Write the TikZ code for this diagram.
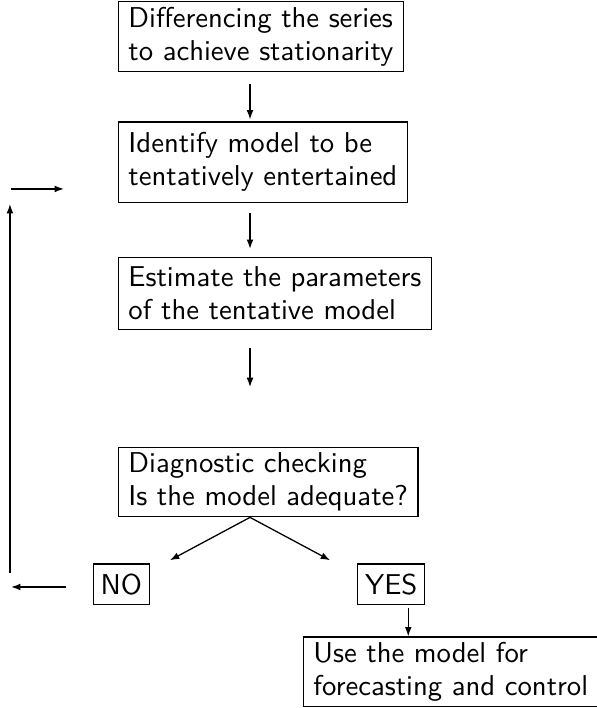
\documentclass[tikz,border=0pt]{standalone}
\usepackage{tikz}
\usetikzlibrary{arrows.meta,positioning}
\tikzset{
  flowarrow/.style={-{Latex[length=3.3pt,width=2.4pt]}, line width=0.45pt,
    draw=black},
  flowbox/.style={draw=black, line width=0.45pt, align=left,
    inner xsep=3.5pt, inner ysep=1.8pt,
    font=\sffamily\fontsize{10.1}{11.6}\selectfont},
  answerbox/.style={draw=black, line width=0.45pt, inner xsep=2.6pt,
    minimum height=12pt, font=\sffamily\fontsize{10.1}{11.6}\selectfont}
}

\begin{document}
\begin{tikzpicture}
  \useasboundingbox (0,0) rectangle (210.1pt,-249.2pt);

  \node[flowbox, minimum height=24.6pt, anchor=north west] (diff)
    at (41.5pt,-0.3pt) {Differencing the series\\to achieve stationarity};
  \node[flowbox, minimum height=28.2pt, below=17.4pt of diff.south west,
    anchor=north west] (ident) {Identify model to be\\tentatively entertained};
  \node[flowbox, minimum height=25.3pt, below=19pt of ident.south west,
    anchor=north west] (estim) {Estimate the parameters\\of the tentative model};
  \node[flowbox, minimum height=24.3pt, below=41.2pt of estim.south west,
    anchor=north west] (check) {Diagnostic checking\\Is the model adequate?};

  \coordinate (ax) at ([xshift=46.5pt]diff.north west);
  \coordinate (fork) at (check.south -| ax);

  \node[answerbox, below left=16.2pt and 35.2pt of fork] (no) {NO};
  \node[answerbox, below right=16.2pt and 37.7pt of fork] (yes) {YES};
  \node[flowbox, minimum height=24.3pt, below right=41.9pt and 18.6pt of fork]
    (use) {Use the model for\\forecasting and control};

  % main chain
  \draw[flowarrow, shorten <=4.2pt, shorten >=0.7pt]
    (diff.south -| ax) -- (ident.north -| ax);
  \draw[flowarrow, shorten <=3.5pt, shorten >=2.8pt]
    (ident.south -| ax) -- (estim.north -| ax);
  \draw[flowarrow, shorten <=6.3pt, shorten >=21.1pt]
    (estim.south -| ax) -- (check.north -| ax);

  % the two answers
  \coordinate (notip) at ([shift={(-28.2pt,-15.1pt)}]fork);
  \coordinate (yestip) at ([shift={(28.2pt,-15.1pt)}]fork);
  \draw[flowarrow] (fork) -- (notip);
  \draw[flowarrow] (fork) -- (yestip);

  \coordinate (yesx) at ([xshift=18pt]yes.south west);
  \draw[flowarrow, shorten <=1pt] (yesx) -- (yesx |- use.north);

  % back to identification
  \coordinate (backbot) at (3.5pt,-201.7pt);
  \coordinate (backtop) at (3.5pt,-71.8pt);
  \draw[flowarrow] (backbot) -- (backtop);
  \coordinate (noout) at (3.9pt,-206.6pt);
  \draw[flowarrow, shorten <=9.2pt] (noout -| no.west) -- (noout);
  \coordinate (loopin) at (3.9pt,-66.5pt);
  \draw[flowarrow, shorten >=19pt] (loopin) -- (loopin -| ident.west);
\end{tikzpicture}
\end{document}
